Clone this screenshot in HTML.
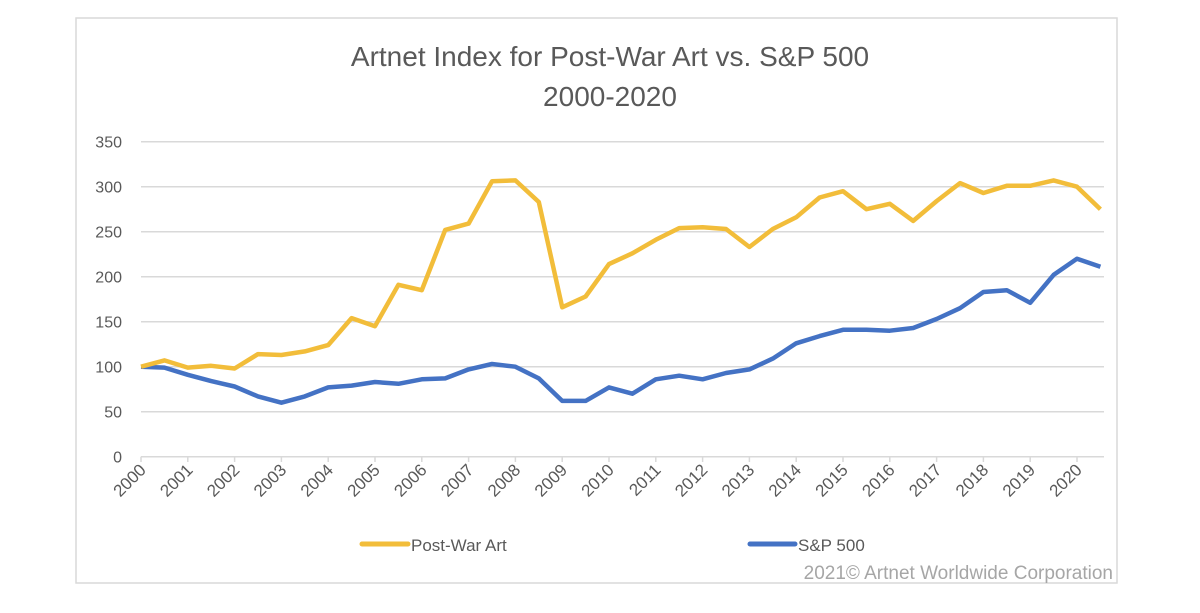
<!DOCTYPE html>
<html><head><meta charset="utf-8"><style>
body{margin:0;background:#fff;width:1200px;height:608px;overflow:hidden}
svg text{font-family:"Liberation Sans",sans-serif}
</style></head><body>
<svg width="1200" height="608">
<rect x="76" y="18" width="1041" height="565" fill="#fff" stroke="#d9d9d9" stroke-width="1.5"/>
<text x="610" y="66" text-anchor="middle" font-size="28" fill="#595959">Artnet Index for Post-War Art vs. S&amp;P 500</text>
<text x="610" y="106" text-anchor="middle" font-size="28" fill="#595959">2000-2020</text>
<g id="grid"></g><g id="series"></g>
<line x1="362" y1="544" x2="408" y2="544" stroke="#f2bd3a" stroke-width="5" stroke-linecap="round"/>
<text x="411" y="551" font-size="17" fill="#595959">Post-War Art</text>
<line x1="750" y1="544" x2="795" y2="544" stroke="#4472c4" stroke-width="5" stroke-linecap="round"/>
<text x="798" y="551" font-size="17" fill="#595959">S&amp;P 500</text>
<text x="1113" y="579" text-anchor="end" font-size="19" fill="#a6a6a6">2021© Artnet Worldwide Corporation</text>
</svg>
<script>
const years=[2000,2001,2002,2003,2004,2005,2006,2007,2008,2009,2010,2011,2012,2013,2014,2015,2016,2017,2018,2019,2020];
const yTicks=[0,50,100,150,200,250,300,350];
const postWar=[100,107,99,101,98,114,113,117,124,154,145,191,185,252,259,306,307,283,166,178,214,226,241,254,255,253,233,253,266,288,295,275,281,262,284,304,293,301,301,307,300,275];
const sp500=[100,99,91,84,78,67,60,67,77,79,83,81,86,87,97,103,100,87,62,62,77,70,86,90,86,93,97,109,126,134,141,141,140,143,153,165,183,185,171,202,220,211];
const NS='http://www.w3.org/2000/svg';
const X=t=>141+(t-2000)*46.8, Y=v=>456.7-v*0.9;
const g=document.getElementById('grid'), s=document.getElementById('series');
function mk(tag,at,p){const e=document.createElementNS(NS,tag);for(const k in at)e.setAttribute(k,at[k]);p.appendChild(e);return e;}
yTicks.forEach(v=>{
 const l=mk('line',{x1:141,x2:1104,y1:Y(v),y2:Y(v),stroke:'#d9d9d9','stroke-width':1.5},g);
 
 
 const t=mk('text',{x:122,y:Y(v)+6,'text-anchor':'end','font-size':16,fill:'#595959'},g);
 t.textContent=v;
 
 
});
years.forEach(yr=>{
 const x=X(yr);
 const tk=mk('line',{x1:x,x2:x,y1:456.7,y2:462,stroke:'#d9d9d9','stroke-width':1.5},g);
 
 
 const t=mk('text',{x:x+6,y:471,'text-anchor':'end','font-size':17,fill:'#595959',transform:`rotate(-45 ${x+6} 471)`},g);
 t.textContent=yr;
 
 
});
function line(arr,color,name){
 const pts=arr.map((v,i)=>X(2000+i*0.5).toFixed(1)+','+Y(v).toFixed(1)).join(' ');
 const p=mk('polyline',{points:pts,fill:'none',stroke:color,'stroke-width':4.5,'stroke-linejoin':'round'},s);
 
 
}
line(sp500,'#4472c4','sp500-line');
line(postWar,'#f2bd3a','post-war-art-line');
</script>
</body></html>
